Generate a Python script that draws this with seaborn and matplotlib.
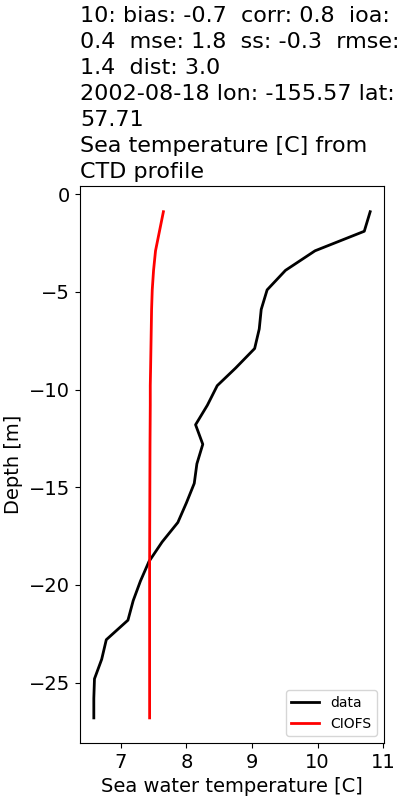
import pandas as pd
import matplotlib
matplotlib.use('Agg')
import matplotlib.pyplot as plt
import seaborn as sns

# CTD profile (data) and model (CIOFS), depth in m (negative down)
depth = [-0.9, -1.9, -2.9, -3.9, -4.9, -5.9, -6.9, -7.9, -8.9, -9.8,
         -10.8, -11.8, -12.8, -13.8, -14.8, -15.8, -16.8, -17.8, -18.8,
         -19.8, -20.8, -21.8, -22.8, -23.8, -24.8, -25.8, -26.8]
temp_data = [10.80, 10.71, 9.96, 9.51, 9.23, 9.14, 9.11, 9.04, 8.75, 8.47,
             8.32, 8.14, 8.25, 8.16, 8.12, 8.00, 7.87, 7.63, 7.43,
             7.30, 7.19, 7.11, 6.78, 6.71, 6.60, 6.59, 6.59]
temp_model = [7.65, 7.59, 7.53, 7.50, 7.48, 7.47, 7.465, 7.46, 7.455, 7.45,
              7.45, 7.448, 7.446, 7.445, 7.444, 7.443, 7.442, 7.441, 7.44,
              7.44, 7.44, 7.44, 7.44, 7.44, 7.44, 7.44, 7.44]

title = ("10: bias: -0.7  corr: 0.8  ioa:\n0.4  mse: 1.8  ss: -0.3  rmse:\n"
         "1.4  dist: 3.0\n2002-08-18 lon: -155.57 lat:\n57.71\n"
         "Sea temperature [C] from\nCTD profile")


def main():
    df = pd.DataFrame({'depth': depth, 'data': temp_data, 'CIOFS': temp_model})

    fig = plt.figure(figsize=(4, 8), dpi=100)
    ax = fig.add_axes([0.2, 0.071, 0.76, 0.696])

    sns.lineplot(data=df, x='data', y='depth', sort=False, estimator=None,
                 color='k', lw=2, label='data', ax=ax)
    sns.lineplot(data=df, x='CIOFS', y='depth', sort=False, estimator=None,
                 color='r', lw=2, label='CIOFS', ax=ax)

    ax.set_xlabel('Sea water temperature [C]', fontsize=14)
    ax.set_ylabel('Depth [m]', fontsize=14)
    ax.tick_params(labelsize=14)
    ax.set_title(title, loc='left', fontsize=16, linespacing=1.38)
    ax.legend(loc='lower right', fontsize=10)

    fig.savefig('out.png')
    plt.close(fig)


if __name__ == '__main__':
    main()
